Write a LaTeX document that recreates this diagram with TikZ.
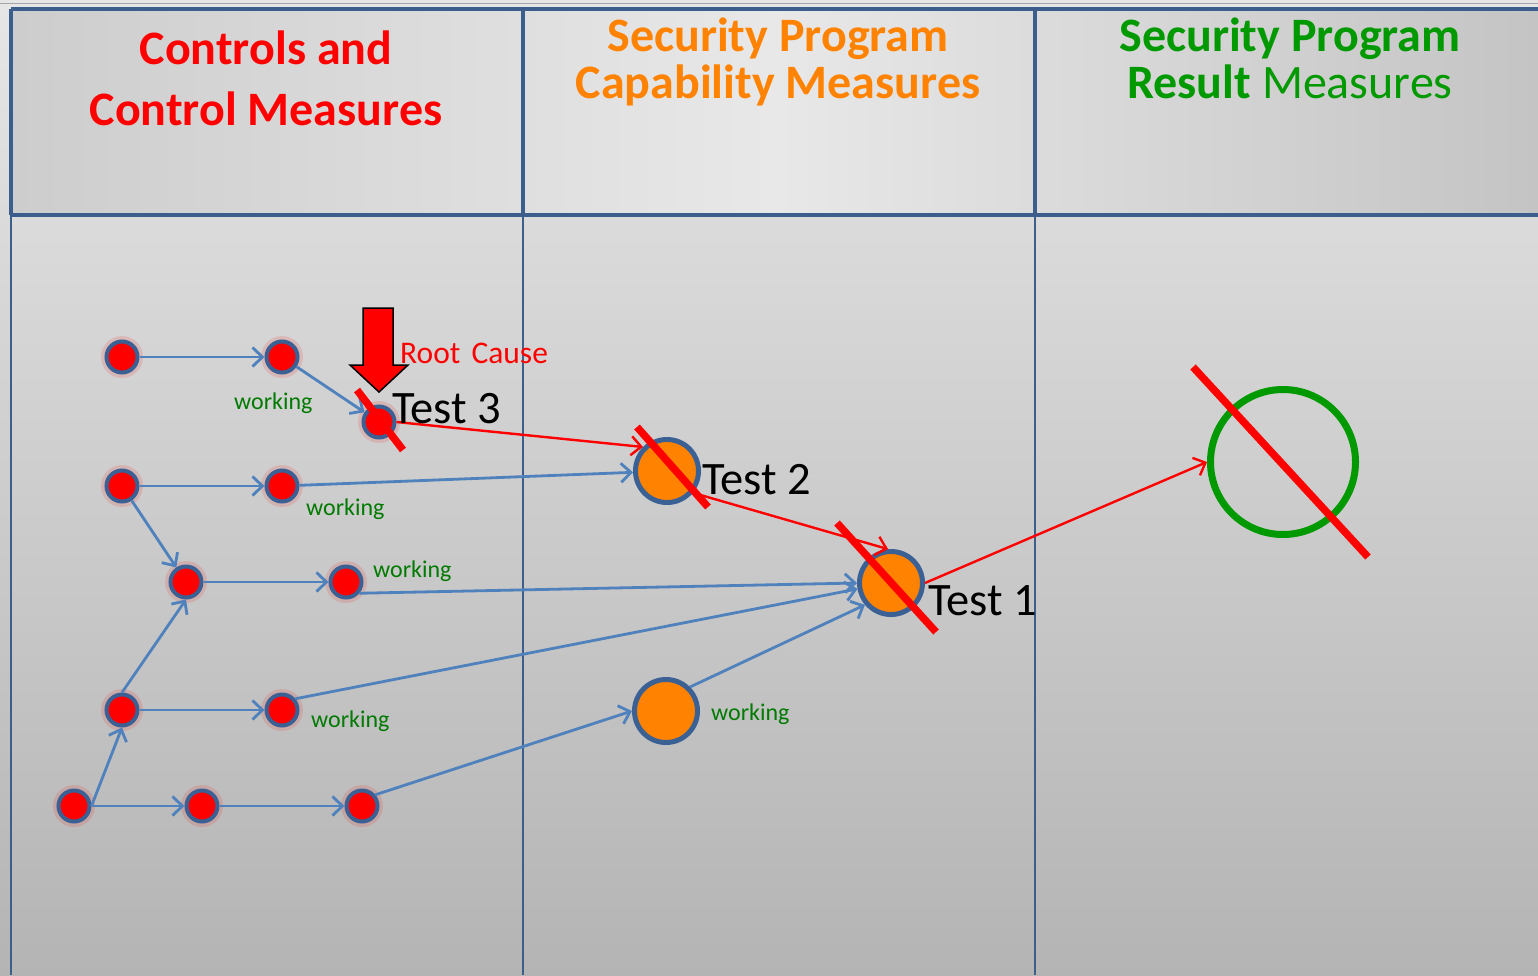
\documentclass[tikz,border=0pt]{standalone}
\usepackage{fontspec}
\setmainfont{Carlito}
\usetikzlibrary{arrows.meta}
\definecolor{frameblue}{RGB}{59,94,140}
\definecolor{linkblue}{RGB}{79,129,189}
\definecolor{nodeblue}{RGB}{59,96,148}
\definecolor{orangeA}{RGB}{255,130,0}
\definecolor{greenA}{RGB}{0,153,0}
\definecolor{workgreen}{RGB}{0,122,0}
\definecolor{bgtop}{RGB}{230,230,230}
\definecolor{bgbot}{RGB}{180,180,180}
\definecolor{hdl}{RGB}{205,205,205}
\definecolor{hdm}{RGB}{232,232,232}
\definecolor{hdr}{RGB}{196,196,196}
\tikzset{
  dot/.style={circle, fill=red, draw=nodeblue, line width=4bp, minimum size=31bp, inner sep=0pt},
  bigdot/.style={circle, fill=orangeA, draw=nodeblue, line width=5bp, minimum size=63bp, inner sep=0pt},
  resdot/.style={circle, draw=greenA, line width=7bp, minimum size=145bp, inner sep=0pt},
  halo/.style={fill=red, opacity=0.13},
  link/.style={draw=linkblue, line width=2.8bp, -{Straight Barb[length=10bp,width=19bp]}},
  redlink/.style={draw=red, line width=2.4bp, -{Straight Barb[length=10bp,width=19bp]}},
  slash/.style={draw=red, line width=7.5bp},
  hdrtext/.style={anchor=base, font=\fontsize{48bp}{56bp}\selectfont\bfseries},
  testlbl/.style={anchor=base west, font=\fontsize{46.5bp}{52bp}\selectfont, text=black, inner sep=0pt},
  worklbl/.style={anchor=base west, font=\fontsize{24bp}{28bp}\selectfont, text=workgreen, inner sep=0pt},
}
\begin{document}
\begin{tikzpicture}[x=1bp, y=-1bp]
\useasboundingbox (0,0) rectangle (1538,975);
% background
\shade[top color=bgtop, bottom color=bgbot] (0,0) rectangle (1538,975);
\shade[left color=hdl, right color=hdr, middle color=hdm] (11,8.5) rectangle (1538,214.5);
\draw[gray!70, line width=1bp] (0,3.5) -- (1538,3.5);
% header frame
\draw[frameblue, line width=4bp] (11,8.5) -- (1538,8.5);
\draw[frameblue, line width=4bp] (11,214.5) -- (1538,214.5);
\draw[frameblue, line width=4bp] (11,8.5) -- (11,214.5);
\draw[frameblue, line width=4bp] (523,8.5) -- (523,214.5);
\draw[frameblue, line width=4bp] (1035,8.5) -- (1035,214.5);
% body lines
\draw[frameblue, line width=2bp] (11,214.5) -- (11,975);
\draw[frameblue, line width=2bp] (523,214.5) -- (523,975);
\draw[frameblue, line width=2bp] (1035,214.5) -- (1035,975);
% headers
\node[hdrtext, text=red] (h1a) at (266,64) {Controls and};
\node[hdrtext, text=red] (h1b) at (266,125) {Control Measures};
\node[hdrtext, text=orangeA] (h2a) at (778,51) {Security Program};
\node[hdrtext, text=orangeA] (h2b) at (778,98) {Capability Measures};
\node[hdrtext, text=greenA] (h3a) at (1290,51) {Security Program};
\node[hdrtext, text=greenA] (h3b) at (1290,98) {Result \mdseries Measures};
% halos
\foreach \p in {(122,357),(282,357),(379,422),(122,486),(282,486),(186,582),(346,582),(122,710),(282,710),(74,806),(202,806),(362,806)}
  \fill[halo] \p circle (21bp);
% small nodes
\node[dot] (n11) at (122,357) {};
\node[dot] (n12) at (282,357) {};
\node[dot] (t3) at (379,422) {};
\node[dot] (n21) at (122,486) {};
\node[dot] (n22) at (282,486) {};
\node[dot] (n31) at (186,582) {};
\node[dot] (n32) at (346,582) {};
\node[dot] (n41) at (122,710) {};
\node[dot] (n42) at (282,710) {};
\node[dot] (n51) at (74,806) {};
\node[dot] (n52) at (202,806) {};
\node[dot] (n53) at (362,806) {};
% medium nodes
\node[bigdot] (t2) at (667,471) {};
\node[bigdot] (t1) at (891,583) {};
\node[bigdot] (w) at (666,711) {};
\node[resdot] (g) at (1283,462) {};
% blue links
\draw[link] (n11) -- (n12);
\draw[link] (n12) -- (t3);
\draw[link] (n21) -- (n22);
\draw[link] (n22) -- (t2);
\draw[link] (n21) -- (n31);
\draw[link] (n31) -- (n32);
\draw[link] (n32.-40) -- (t1.west);
\draw[link] (n41.north) -- (n31.south);
\draw[link] (n41) -- (n42);
\draw[link] (n42.40) -- (t1.190);
\draw[link] (n51.east) -- (n41.south);
\draw[link] (n51) -- (n52);
\draw[link] (n52) -- (n53);
\draw[link] (n53.40) -- (w.west);
\draw[link] (w.45) -- (t1.220);
% red links
\draw[redlink] (t3.east) -- (t2.135);
\draw[redlink] (t2.-40) -- (t1.95);
\draw[redlink] (t1.east) -- (g.west);
% slashes
\draw[slash] ([shift={(-22,-32)}]t3.center) -- ([shift={(24,28)}]t3.center);
\draw[slash] ([shift={(-30,-44)}]t2.center) -- ([shift={(41,36)}]t2.center);
\draw[slash] ([shift={(-54,-60)}]t1.center) -- ([shift={(45,49)}]t1.center);
\draw[slash] ([shift={(-90,-95)}]g.center) -- ([shift={(85,95)}]g.center);
% root cause arrow
\draw[fill=red, draw=black, line width=1.5bp] (363,308) -- (393,308) -- (393,365) -- (408,365) -- (379,392) -- (350,365) -- (363,365) -- cycle;
\node[anchor=base west, inner sep=0pt, font=\fontsize{31.5bp}{35bp}\selectfont, text=red] (rc) at (400,363) {Root\kern4bp\ Cause};
% labels
\node[testlbl] (l3) at (392,423) {Test 3};
\node[testlbl] (l2) at (702,494) {Test 2};
\node[testlbl] (l1) at (928,615) {Test 1};
\node[worklbl] (wk1) at (234,409) {working};
\node[worklbl] (wk2) at (306,515) {working};
\node[worklbl] (wk3) at (373,577) {working};
\node[worklbl] (wk4) at (311,727) {working};
\node[worklbl] (wk5) at (711,720) {working};
\end{tikzpicture}
\end{document}
